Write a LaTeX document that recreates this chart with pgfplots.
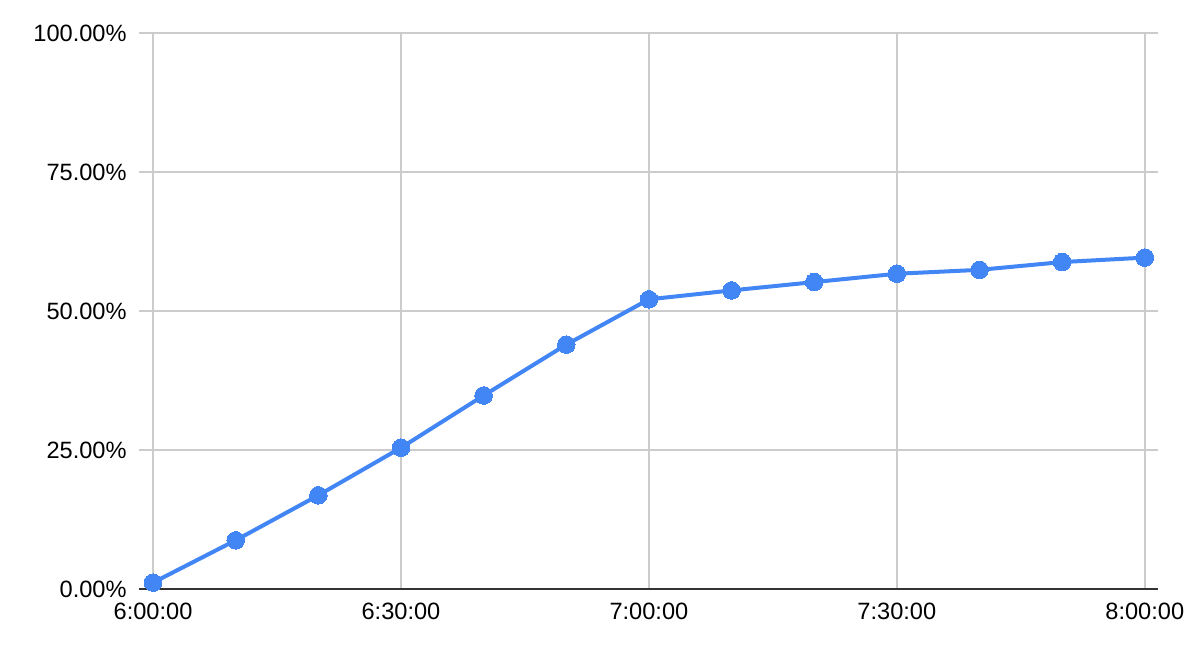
\documentclass[border=0pt]{standalone}
\usepackage{pgfplots}
\pgfplotsset{compat=1.18}
\usepackage{fontspec}
\setmainfont{Liberation Sans}
\definecolor{sheetblue}{HTML}{4285F4}
\definecolor{gridgray}{HTML}{CCCCCC}
\definecolor{axisdark}{HTML}{333333}
\begin{document}
\begin{tikzpicture}
% 1 px of the reference = 0.5pt
\useasboundingbox (-69.5pt,-34.5pt) rectangle (524.5pt,294.5pt);
\begin{axis}[
    at={(0,0)}, anchor=south west,
    scale only axis, width=509.5pt, height=278pt,
    xmin=-1.7, xmax=121.6, ymin=0, ymax=100,
    axis x line=bottom, axis y line=left,
    x axis line style={axisdark, line width=1pt, -},
    y axis line style={draw=none},
    xtick={0,30,60,90,120},
    xticklabels={6:00:00,6:30:00,7:00:00,7:30:00,8:00:00},
    ytick={0,25,50,75,100},
    yticklabels={0.00\%,25.00\%,50.00\%,75.00\%,100.00\%},
    major tick length=0pt,
    grid=major,
    major grid style={gridgray, line width=1pt},
    tick label style={font=\fontsize{11.8}{14}\selectfont, inner sep=0pt, text=black},
    xticklabel style={anchor=north, yshift=-7pt},
    yticklabel style={anchor=east, xshift=-6pt},
    clip=false,
]
\addplot[sheetblue, line width=2pt, mark=*, mark size=4.4pt,
    mark options={fill=sheetblue, draw=sheetblue, line width=0pt}]
coordinates {
    (0,1.15) (10,8.76) (20,16.85) (30,25.4) (40,34.8) (50,43.95) (60,52.1)
    (70,53.7) (80,55.2) (90,56.7) (100,57.4) (110,58.8) (120,59.6)
};
\end{axis}
\end{tikzpicture}
\end{document}
